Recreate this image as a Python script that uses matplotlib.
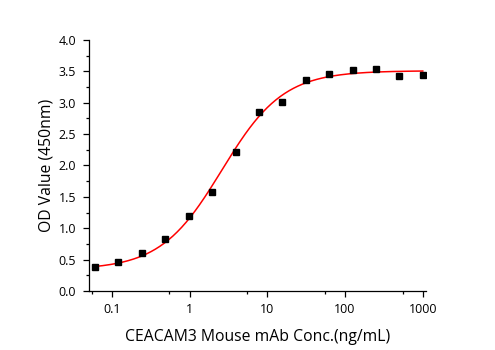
import numpy as np
import matplotlib.pyplot as plt
from matplotlib.ticker import FixedLocator, NullFormatter

plt.rcParams['font.family'] = ['Open Sans', 'DejaVu Sans']

# measured points (two-fold dilution series)
conc = [0.061, 0.122, 0.244, 0.488, 0.977, 1.95, 3.91, 7.81,
        15.6, 31.25, 62.5, 125, 250, 500, 1000]
od = [0.38, 0.46, 0.60, 0.83, 1.20, 1.57, 2.22, 2.85,
      3.01, 3.36, 3.46, 3.52, 3.54, 3.43, 3.44]

# 4PL fit parameters (bottom, top, EC50, hill)
bottom, top, ec50, hill = 0.34, 3.51, 2.6, 1.1

xtick_vals = [0.1, 1, 10, 100, 1000]
xtick_labels = ['0.1', '1', '10', '100', '1000']
yticks = [0.0, 0.5, 1.0, 1.5, 2.0, 2.5, 3.0, 3.5, 4.0]

fig = plt.figure(figsize=(4.95, 3.5), dpi=100)
ax = fig.add_axes([0.1788, 0.1686, 0.6818, 0.7171])

xs = np.logspace(np.log10(conc[0]), np.log10(conc[-1]), 300)
fit = top + (bottom - top) / (1 + (xs / ec50) ** hill)
ax.plot(xs, fit, color='red', lw=1.1, zorder=2)
ax.plot(conc, od, 's', color='black', ms=4.3, zorder=3)

ax.set_xscale('log')
ax.set_xlim(0.0502, 1100)
ax.set_ylim(0, 4.0)

ax.xaxis.set_major_locator(FixedLocator(xtick_vals))
ax.set_xticklabels(xtick_labels)
ax.xaxis.set_minor_locator(FixedLocator([0.055, 0.55, 5.5, 55, 550]))
ax.xaxis.set_minor_formatter(NullFormatter())
ax.set_yticks(yticks)
ax.set_yticklabels(['%.1f' % v for v in yticks])
ax.yaxis.set_minor_locator(FixedLocator(np.arange(0.25, 4.0, 0.5)))

for s in ['top', 'right']:
    ax.spines[s].set_visible(False)
for s in ['left', 'bottom']:
    ax.spines[s].set_linewidth(0.9)

ax.tick_params(which='major', direction='out', length=4, width=0.9,
               labelsize=9, pad=5)
ax.tick_params(which='minor', direction='out', length=2.5, width=0.9)

ax.set_xlabel('CEACAM3 Mouse mAb Conc.(ng/mL)', fontsize=11.3, labelpad=9)
ax.set_ylabel('OD Value (450nm)', fontsize=11.3, labelpad=3)

fig.savefig('out.png', dpi=100)
